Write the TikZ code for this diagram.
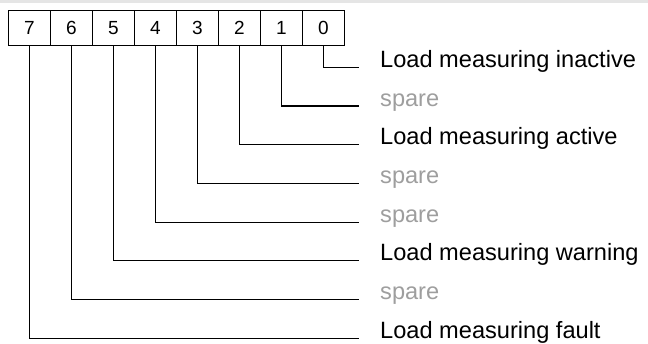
\documentclass[tikz,border=0pt]{standalone}
\usepackage{fontspec}
\setmainfont{Liberation Sans}
\begin{document}
\begin{tikzpicture}[x=1pt,y=-1pt,
  bitcell/.style={draw=black,line width=1.2pt,minimum width=42pt,minimum height=35pt,
    inner sep=0pt,outer sep=0pt,font=\fontsize{19}{19}\selectfont},
  lead/.style={draw=black,line width=1.2pt},
  used/.style={anchor=base west,inner sep=0pt,text=black,font=\fontsize{23.6}{24}\selectfont},
  spare/.style={used,text=black!38}]
\useasboundingbox (0,0) rectangle (648,343);
% thin header band
\fill[black!10] (0,0) rectangle (648,3);
% bit register, MSB on the left
\foreach \i in {0,...,7}{
  \node[bitcell] (b\i) at ({29.3+42*(7-\i)},28.3) {\i};
}
% one description line per bit
\foreach \i/\txt/\st in {0/Load measuring inactive/used,1/spare/spare,
    2/Load measuring active/used,3/spare/spare,4/spare/spare,
    5/Load measuring warning/used,6/spare/spare,7/Load measuring fault/used}{
  \coordinate (e\i) at (359,{67.3+38.71*\i});
  \node[\st] (l\i) at (380,{67.3+38.71*\i}) {\txt};
  \draw[lead] (b\i.south) |- (e\i);
}
\end{tikzpicture}
\end{document}
